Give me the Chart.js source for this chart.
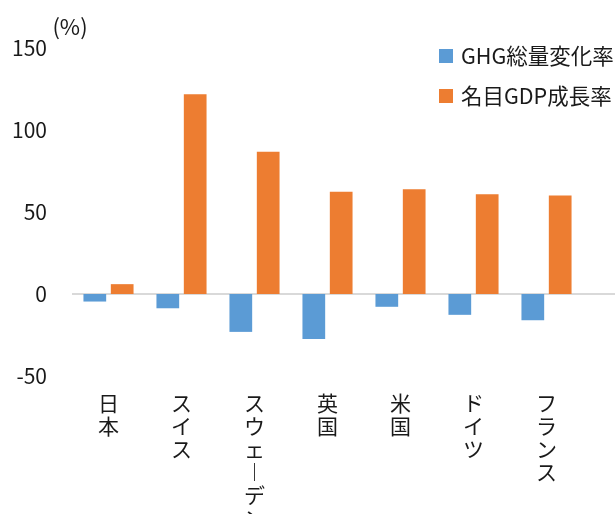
<!DOCTYPE html>
<html lang="ja">
<head>
<meta charset="utf-8">
<title>GHG総量変化率と名目GDP成長率</title>
<script src="https://cdn.jsdelivr.net/npm/chart.js@4/dist/chart.umd.min.js"></script>
<style>
  html, body { margin: 0; padding: 0; background: #fff; overflow: hidden; }
  .wrap { position: relative; width: 615px; height: 536px; }
</style>
</head>
<body>
<div class="wrap"><canvas class="bar-chart"></canvas></div>
<script>
const countries = ['日本', 'スイス', 'スウェーデン', '英国', '米国', 'ドイツ', 'フランス'];
const ghgChange = [-4.6, -8.7, -23.1, -27.4, -7.8, -12.7, -16.0];
const gdpGrowth = [6.0, 121.8, 86.8, 62.4, 63.8, 60.8, 60.0];
const yTicks = [-50, 0, 50, 100, 150];

const seriesNames = ['GHG総量変化率', '名目GDP成長率'];
const seriesColors = ['#5B9BD5', '#ED7D31'];
const unitLabel = '(%)';

const fontFamily = '"Noto Sans CJK JP", "Noto Sans", sans-serif';
const textColor = '#1a1a1a';

// vertical labels: one character per line, long vowel mark turned upright
const verticalLabel = (text) => [...text].map((c) => (c === 'ー' ? '︱' : c));

// zero line runs on to the right edge like the cropped original
const zeroLine = {
  id: 'zeroLine',
  beforeDatasetsDraw(chart) {
    const { ctx, chartArea, scales } = chart;
    const y = scales.y.getPixelForValue(0);
    ctx.save();
    ctx.strokeStyle = '#D9D9D9';
    ctx.lineWidth = 2;
    ctx.beginPath();
    ctx.moveTo(chartArea.left, y);
    ctx.lineTo(chart.width, y);
    ctx.stroke();
    ctx.restore();
  },
};

const extraText = {
  id: 'extraText',
  afterDraw(chart) {
    const { ctx, chartArea, scales } = chart;
    ctx.save();
    ctx.fillStyle = textColor;
    ctx.textBaseline = 'middle';

    // unit label next to the top tick
    ctx.font = '22px ' + fontFamily;
    ctx.textAlign = 'center';
    ctx.fillText(unitLabel, chartArea.left - 2, scales.y.getPixelForValue(yTicks[yTicks.length - 1]) - 21);

    // legend, top right inside the plot
    ctx.font = '21.5px ' + fontFamily;
    ctx.textAlign = 'left';
    chart.data.datasets.forEach((ds, i) => {
      const rowY = 56 + i * 40;
      ctx.fillStyle = ds.backgroundColor;
      ctx.fillRect(439, rowY - 7, 14, 14);
      ctx.fillStyle = textColor;
      ctx.fillText(ds.label, 461, rowY);
    });
    ctx.restore();
  },
};

const renderChart = () => {
  const canvas = document.querySelector('.bar-chart');

  new Chart(canvas, {
    type: 'bar',
    data: {
      labels: countries,
      datasets: [
        {
          label: seriesNames[0],
          data: ghgChange,
          backgroundColor: seriesColors[0],
          categoryPercentage: 0.75,
          barPercentage: 0.83,
        },
        {
          label: seriesNames[1],
          data: gdpGrowth,
          backgroundColor: seriesColors[1],
          categoryPercentage: 0.75,
          barPercentage: 0.83,
        },
      ],
    },
    options: {
      responsive: true,
      maintainAspectRatio: false,
      animation: false,
      layout: { padding: { top: 48, right: 32, bottom: 0, left: 0 } },
      plugins: {
        legend: { display: false },
        tooltip: { enabled: false },
      },
      scales: {
        x: {
          grid: { display: false, drawTicks: false },
          border: { display: false },
          ticks: {
            padding: 15.5,
            maxRotation: 0,
            autoSkip: false,
            color: textColor,
            font: { family: fontFamily, size: 21, lineHeight: 23 / 21 },
            callback: (value, index) => verticalLabel(countries[index]),
          },
          afterFit: (scale) => { scale.height = 160; },
        },
        y: {
          min: yTicks[0],
          max: yTicks[yTicks.length - 1],
          grid: { display: false, drawTicks: false },
          border: { display: false },
          afterBuildTicks: (scale) => { scale.ticks = yTicks.map((v) => ({ value: v })); },
          afterFit: (scale) => { scale.width = 72; },
          ticks: {
            padding: 25,
            color: textColor,
            font: { family: fontFamily, size: 21 },
          },
        },
      },
    },
    plugins: [zeroLine, extraText],
  });
};

renderChart();
</script>
</body>
</html>
